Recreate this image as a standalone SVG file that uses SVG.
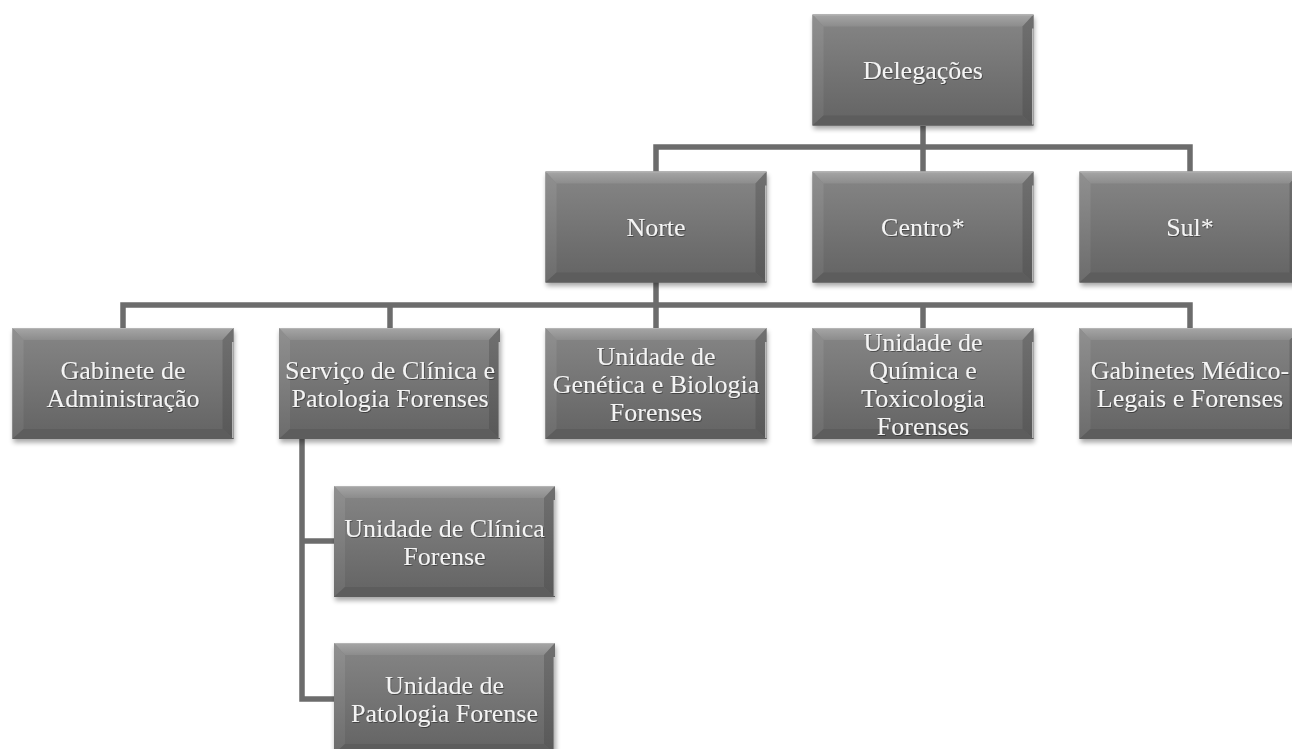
<svg xmlns="http://www.w3.org/2000/svg" xmlns:xlink="http://www.w3.org/1999/xlink" width="1292" height="749" viewBox="0 0 1292 749">
<style>
.lbl{font-family:"Liberation Serif","Times New Roman",serif;font-size:26px;fill:#f4f4f4;text-anchor:middle;filter:url(#ts)}
.conn{fill:none;stroke:#6c6c6c;stroke-width:5.5;stroke-linejoin:miter;stroke-linecap:butt}
</style>
<defs>
<linearGradient id="gMain" x1="0" y1="0" x2="0" y2="1">
<stop offset="0" stop-color="#868686"/>
<stop offset="1" stop-color="#636363"/>
</linearGradient>
<linearGradient id="gTop" x1="0" y1="0" x2="0" y2="1">
<stop offset="0" stop-color="#a6a6a6"/>
<stop offset="1" stop-color="#8c8c8c"/>
</linearGradient>
<linearGradient id="gLeft" x1="0" y1="0" x2="0" y2="1">
<stop offset="0" stop-color="#909090"/>
<stop offset="1" stop-color="#6c6c6c"/>
</linearGradient>
<linearGradient id="gRight" x1="0" y1="0" x2="0" y2="1">
<stop offset="0" stop-color="#707070"/>
<stop offset="1" stop-color="#585858"/>
</linearGradient>
<filter id="sh" x="-10%" y="-10%" width="120%" height="130%">
<feGaussianBlur stdDeviation="2.5"/>
</filter>
<filter id="ts" x="-10%" y="-30%" width="120%" height="160%">
<feDropShadow dx="0.8" dy="1" stdDeviation="0.6" flood-color="#000" flood-opacity="0.4"/>
</filter>
<symbol id="box" viewBox="0 0 221 111" width="221" height="111" overflow="visible">
<rect x="1" y="3.5" width="221" height="111" fill="#000" opacity="0.35" filter="url(#sh)"/>
<rect x="0" y="0" width="221" height="111" fill="url(#gMain)"/>
<polygon points="0,0 221,0 210,12 11,12" fill="url(#gTop)"/>
<polygon points="0,0 11,12 11,101 0,111" fill="url(#gLeft)"/>
<polygon points="221,0 221,111 210,101 210,12" fill="url(#gRight)"/>
<polygon points="0,111 11,101 210,101 221,111" fill="#5d5d5d"/>
<line x1="220.3" y1="14" x2="220.3" y2="110" stroke="#e8e8e8" stroke-width="1.4" opacity="0.7"/>
<line x1="0.5" y1="0.5" x2="220.5" y2="0.5" stroke="#b4b4b4" stroke-width="1"/>
</symbol>
</defs>
<rect width="1292" height="749" fill="#ffffff"/>
<g id="connectors">
<path class="conn" d="M923 126 V147"/>
<path class="conn" d="M656 172 V147 H1190 V172"/>
<path class="conn" d="M923 147 V172"/>
<path class="conn" d="M656 282 V305"/>
<path class="conn" d="M123 328 V305 H1190 V328"/>
<path class="conn" d="M390 305 V328"/>
<path class="conn" d="M656 305 V328"/>
<path class="conn" d="M923 305 V328"/>
<path class="conn" d="M302 439 V699 H334"/>
<path class="conn" d="M302 541 H334"/>
</g>
<g id="delegacoes"><use xlink:href="#box" x="812.5" y="14.5"/><text class="lbl" x="923" y="79">Delegações</text></g>
<g id="norte"><use xlink:href="#box" x="545.5" y="171.5"/><text class="lbl" x="656" y="236">Norte</text></g>
<g id="centro"><use xlink:href="#box" x="812.5" y="171.5"/><text class="lbl" x="923" y="236">Centro*</text></g>
<g id="sul"><use xlink:href="#box" x="1079.5" y="171.5"/><text class="lbl" x="1190" y="236">Sul*</text></g>
<g id="gabinete-administracao"><use xlink:href="#box" x="12.5" y="328"/><text class="lbl" x="123" y="378.5">Gabinete de</text><text class="lbl" x="123" y="406.5">Administração</text></g>
<g id="servico-clinica-patologia"><use xlink:href="#box" x="279" y="328"/><text class="lbl" x="390" y="378.5">Serviço de Clínica e</text><text class="lbl" x="390" y="406.5">Patologia Forenses</text></g>
<g id="unidade-genetica"><use xlink:href="#box" x="545.5" y="328"/><text class="lbl" x="656" y="364.5">Unidade de</text><text class="lbl" x="656" y="392.5">Genética e Biologia</text><text class="lbl" x="656" y="420.5">Forenses</text></g>
<g id="unidade-quimica"><use xlink:href="#box" x="812.5" y="328"/><text class="lbl" x="923" y="350.5">Unidade de</text><text class="lbl" x="923" y="378.5">Química e</text><text class="lbl" x="923" y="406.5">Toxicologia</text><text class="lbl" x="923" y="434.5">Forenses</text></g>
<g id="gabinetes-medico-legais"><use xlink:href="#box" x="1079.5" y="328"/><text class="lbl" x="1190" y="378.5">Gabinetes Médico-</text><text class="lbl" x="1190" y="406.5">Legais e Forenses</text></g>
<g id="unidade-clinica-forense"><use xlink:href="#box" x="334" y="486"/><text class="lbl" x="444.5" y="536.5">Unidade de Clínica</text><text class="lbl" x="444.5" y="564.5">Forense</text></g>
<g id="unidade-patologia-forense"><use xlink:href="#box" x="334" y="643"/><text class="lbl" x="444.5" y="693.5">Unidade de</text><text class="lbl" x="444.5" y="721.5">Patologia Forense</text></g>
</svg>
